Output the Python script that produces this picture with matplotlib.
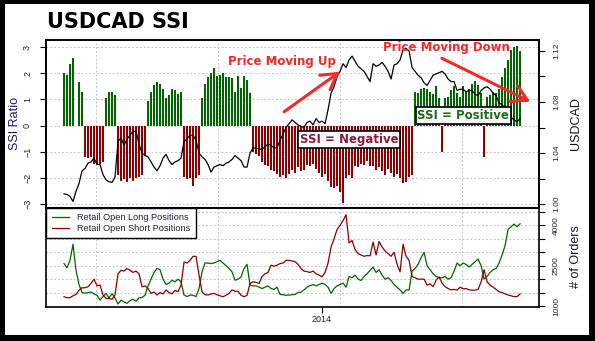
import numpy as np
import matplotlib
matplotlib.use("Agg")
import matplotlib.pyplot as plt
from matplotlib.patches import Rectangle

# SSI ratio (bars), one value per step
ssi = [2.0, 1.95, 2.35, 2.6, 0, 1.65, 1.3, -1.2, -1.25, -1.2,
       -1.45, -1.45, -1.45, -1.4, 1.05, 1.27, 1.3, 1.15, -1.9, -2.1,
       -2.05, -2.15, -2.0, -2.1, -2.0, -1.95, -1.9, -1.15, 0.95, 1.3,
       1.55, 1.65, 1.6, 1.4, 1.05, 1.15, 1.4, 1.35, 1.2, 1.3,
       -1.95, -2.05, -2.0, -2.3, -2.0, -1.9, 1.05, 1.6, 1.85, 2.0,
       2.2, 1.9, 1.95, 2.0, 1.85, 1.85, 1.8, 1.3, 1.9, 1.45,
       1.9, 1.75, 1.25, -1.0, -1.1, -1.15, -1.4, -1.5, -1.55, -1.7,
       -1.75, -1.85, -1.95, -1.9, -2.0, -1.85, -1.7, -1.8, -1.6, -1.75,
       -1.7, -1.5, -1.55, -1.45, -1.65, -1.8, -1.95, -1.85, -2.1, -2.35,
       -2.4, -2.3, -2.55, -2.95, -2.0, -1.9, -2.0, -1.55, -1.6, -1.45,
       -1.5, -1.35, -1.55, -1.55, -1.7, -1.6, -1.75, -1.9, -1.65, -1.8,
       -1.95, -1.85, -2.0, -2.2, -2.15, -1.95, -1.9, 1.3, 1.25, 1.4,
       1.45, 1.4, 1.3, 1.2, 1.5, 1.05, -1.0, 1.05, 1.1, 1.35,
       1.5, 1.25, 1.1, 1.5, 1.3, 1.4, 1.6, 1.7, 1.55, 1.25,
       -1.2, 1.1, 1.15, 1.3, 1.25, 1.4, 1.85, 2.2, 2.5, 2.9,
       3.0, 3.05, 2.85]

usdcad = [1.008, 1.0075, 1.006, 1.002, 1.010, 1.016, 1.026, 1.028, 1.032, 1.033,
          1.036, 1.031, 1.031, 1.023, 1.019, 1.0175, 1.017, 1.021, 1.049, 1.052,
          1.046, 1.051, 1.054, 1.057, 1.057, 1.047, 1.040, 1.038, 1.037, 1.033,
          1.029, 1.026, 1.030, 1.036, 1.039, 1.034, 1.031, 1.033, 1.034, 1.036,
          1.049, 1.051, 1.054, 1.054, 1.050, 1.040, 1.037, 1.035, 1.031, 1.025,
          1.029, 1.030, 1.031, 1.030, 1.032, 1.033, 1.035, 1.038, 1.036, 1.034,
          1.029, 1.029, 1.040, 1.044, 1.044, 1.043, 1.043, 1.045, 1.047, 1.046,
          1.044, 1.044, 1.050, 1.055, 1.060, 1.063, 1.066, 1.064, 1.062, 1.061,
          1.060, 1.064, 1.065, 1.062, 1.067, 1.064, 1.065, 1.063, 1.074, 1.087,
          1.092, 1.100, 1.104, 1.110, 1.107, 1.113, 1.116, 1.112, 1.108, 1.106,
          1.104, 1.100, 1.096, 1.110, 1.108, 1.109, 1.111, 1.108, 1.104, 1.098,
          1.109, 1.110, 1.113, 1.121, 1.122, 1.120, 1.107, 1.104, 1.101, 1.099,
          1.095, 1.093, 1.097, 1.101, 1.102, 1.103, 1.104, 1.102, 1.098, 1.096,
          1.096, 1.089, 1.090, 1.090, 1.088, 1.089, 1.089, 1.086, 1.085, 1.089,
          1.091, 1.092, 1.090, 1.087, 1.085, 1.079, 1.078, 1.075, 1.070, 1.068,
          1.066, 1.0645, 1.067]

long_pos = [2580, 2420, 2700, 3300, 2330, 1800, 1500, 1480, 1500, 1520,
            1450, 1400, 1220, 1350, 1470, 1300, 1460, 1300, 1075, 1220,
            1150, 1100, 1200, 1250, 1180, 1300, 1320, 1400, 1750, 2000,
            2250, 2400, 2350, 2000, 1800, 1850, 1960, 1900, 2000, 1900,
            1410, 1350, 1410, 1400, 1350, 1650, 2270, 2600, 2600, 2580,
            2600, 2650, 2700, 2600, 2500, 2400, 2270, 1960, 2000, 2080,
            2400, 2550, 1780, 1750, 1750, 1700, 1650, 1700, 1750, 1650,
            1620, 1700, 1430, 1420, 1400, 1410, 1420, 1430, 1500, 1520,
            1600, 1700, 1760, 1800, 1750, 1800, 1850, 1800, 1700, 1470,
            1650, 1750, 1800, 1850, 1700, 2100, 2050, 2150, 2000, 1950,
            2100, 2200, 2330, 2450, 2250, 2350, 2150, 2000, 2050, 1950,
            1800, 1700, 1600, 1470, 1600, 1600, 2300, 2400, 2550, 2800,
            3000, 2500, 2350, 2200, 2100, 2050, 2050, 2100, 2000, 2050,
            2300, 2600, 2500, 2600, 2550, 2450, 2550, 2650, 2750, 2500,
            2000, 2100, 2250, 2350, 2400, 2600, 2900, 3250, 3850, 3950,
            4050, 3950, 4060]

short_pos = [1345, 1310, 1310, 1380, 1430, 1590, 1680, 1680, 1715, 1840,
             2000, 1750, 1780, 1410, 1285, 1280, 1250, 1410, 2200, 2330,
             2300, 2395, 2330, 2250, 2300, 2200, 1715, 1750, 1650, 1470,
             1520, 1410, 1500, 1450, 1600, 1500, 1450, 1580, 1530, 1780,
             2640, 2600, 2700, 2850, 2850, 2150, 1530, 1420, 1410, 1450,
             1470, 1420, 1380, 1345, 1400, 1470, 1600, 1550, 1550, 1400,
             1345, 1400, 1840, 1900, 1880, 1840, 2100, 2200, 2250, 2520,
             2480, 2520, 2580, 2600, 2700, 2700, 2680, 2650, 2550, 2395,
             2300, 2280, 2250, 2300, 2200, 2150, 2085, 2250, 2600, 3200,
             3500, 3850, 4000, 4180, 4400, 3350, 3440, 3100, 2950, 2900,
             2850, 2880, 2870, 3380, 2900, 3400, 3200, 3050, 2950, 2850,
             3000, 2550, 2270, 3300, 2850, 2700, 2100, 2050, 2000, 2000,
             2000, 1780, 1820, 1720, 1960, 2085, 1850, 1720, 1650, 1600,
             1620, 1590, 1700, 1640, 1650, 1600, 1590, 1590, 1620, 1900,
             2350, 1900, 1780, 1700, 1620, 1530, 1500, 1450, 1410, 1380,
             1350, 1350, 1450]

year_label = "2014"
year_idx = 86
vgrid = [10.7, 51.3, 92, 132.7]

x = np.arange(len(ssi))
W, H = 595, 341
tick_col = "#222233"
grid_kw = dict(color="#c4c4c4", linestyle=(0, (2, 2)), linewidth=0.7)

fig = plt.figure(figsize=(W / 100, H / 100), dpi=100, facecolor="black")
fig.add_artist(Rectangle((5 / W, 6 / H), 584 / W, 331 / H, transform=fig.transFigure,
                         facecolor="white", edgecolor="none", zorder=0))

ax = fig.add_axes([46 / W, (H - 208) / H, 493 / W, 168 / H])
axb = fig.add_axes([46 / W, (H - 307) / H, 493 / W, 99 / H])

# --- top panel: SSI bars + price
cols = ["#006400" if v > 0 else "#8b0000" for v in ssi]
ax.bar(x, ssi, width=0.65, color=cols, zorder=2)
ax.set_xlim(-6, 158.3)
ax.set_ylim(-3.15, 3.27)
ax.set_yticks(range(-3, 4))
ax.set_xticks(vgrid)
ax.tick_params(axis="x", length=0, labelbottom=False)
ax.tick_params(axis="y", length=4, width=0.8, pad=6, labelsize=6.5, labelcolor=tick_col)
for t in ax.get_yticklabels():
    t.set_rotation(90)
    t.set_va("center")
    t.set_family("Liberation Sans")
ax.grid(True, **grid_kw)
ax.set_axisbelow(True)

axp = ax.twinx()
axp.plot(x, usdcad, color="black", lw=0.9, zorder=3)
axp.set_ylim(0.9969, 1.1286)
pt = np.arange(1.00, 1.121, 0.02)
axp.set_yticks(pt)
axp.set_yticklabels(["%.2f" % v if i % 2 == 0 else "" for i, v in enumerate(pt)])
axp.tick_params(axis="y", length=4, width=0.8, pad=6, labelsize=6, labelcolor=tick_col)
for t in axp.get_yticklabels():
    t.set_rotation(90)
    t.set_va("center")
    t.set_family("Liberation Sans")

for a in (ax, axp, axb):
    for s in a.spines.values():
        s.set_linewidth(1.2)

# annotations
red = "#f02a2a"
axp.text(0.479, 0.875, "Price Moving Up", transform=ax.transAxes, color=red,
         fontsize=8.5, fontweight="bold", ha="center", va="center", zorder=6)
axp.text(0.812, 0.958, "Price Moving Down", transform=ax.transAxes, color=red,
         fontsize=8.5, fontweight="bold", ha="center", va="center", zorder=6)
aprops = dict(arrowstyle="->,head_length=0.55,head_width=0.32", color=red, lw=2.2,
              mutation_scale=20, shrinkA=0, shrinkB=0)
axp.annotate("", xy=(0.596, 0.811), xytext=(0.483, 0.573), xycoords=ax.transAxes,
             textcoords=ax.transAxes, arrowprops=aprops, zorder=6)
axp.annotate("", xy=(0.982, 0.633), xytext=(0.803, 0.891), xycoords=ax.transAxes,
             textcoords=ax.transAxes, arrowprops=aprops, zorder=6)
box = dict(boxstyle="square,pad=0.15", fc="white", ec="black", lw=1.2)
axp.text(0.615, 0.409, "SSI = Negative", transform=ax.transAxes, color="#8b1a3c",
         fontsize=8.5, fontweight="bold", ha="center", va="center", bbox=box, zorder=6)
axp.text(0.8465, 0.552, "SSI = Positive", transform=ax.transAxes, color="#1f6b1f",
         fontsize=8.5, fontweight="bold", ha="center", va="center", bbox=box, zorder=6)

# --- bottom panel: positions
axb.plot(x, long_pos, color="#006400", lw=0.9, label="Retail Open Long Positions")
axb.plot(x, short_pos, color="#8b0000", lw=0.9, label="Retail Open Short Positions")
axb.set_xlim(-6, 158.3)
axb.set_ylim(963, 4649)
axb.yaxis.tick_right()
ot = np.arange(1000, 4501, 500)
axb.set_yticks(ot)
axb.set_yticklabels([str(v) if v in (1000, 2500, 4000) else "" for v in ot])
axb.tick_params(axis="y", length=4, width=0.8, pad=6, labelsize=6, labelcolor=tick_col)
for t in axb.get_yticklabels():
    t.set_rotation(90)
    t.set_va("center")
    t.set_family("Liberation Sans")
axb.set_xticks(vgrid)
axb.set_xticks([year_idx], minor=True)
axb.set_xticklabels([year_label], minor=True)
axb.tick_params(axis="x", which="major", length=0, labelbottom=False)
axb.tick_params(axis="x", which="minor", length=4, width=0.8, pad=2, labelsize=6.5,
                labelcolor=tick_col)
for t in axb.get_xticklabels(minor=True):
    t.set_family("Liberation Sans")
axb.grid(True, which="major", **grid_kw)
leg = axb.legend(loc="upper left", bbox_to_anchor=(0, 1), borderaxespad=0,
                 fancybox=False, edgecolor="black", framealpha=1,
                 prop={"family": "Liberation Sans", "size": 6.6},
                 handlelength=1.9, handletextpad=0.9, labelspacing=0.15,
                 borderpad=0.6)
leg.get_frame().set_linewidth(1.0)
for t in leg.get_texts():
    t.set_color("#202040")

# --- labels
fig.text(47 / W, 1 - 28 / H, "USDCAD SSI", fontsize=15, fontweight="bold",
         color="black", ha="left", va="baseline")
fig.text(15 / W, 1 - 124 / H, "SSI Ratio", rotation=90, fontsize=9,
         family="Liberation Sans", color="#1c1c5c", ha="center", va="center")
fig.text(576 / W, 1 - 124 / H, "USDCAD", rotation=90, fontsize=9,
         family="Liberation Sans", color="#111122", ha="center", va="center")
fig.text(576 / W, 1 - 257 / H, "# of Orders", rotation=90, fontsize=9,
         family="Liberation Sans", color="#111122", ha="center", va="center")

fig.savefig("out.png", dpi=100, facecolor=fig.get_facecolor())
